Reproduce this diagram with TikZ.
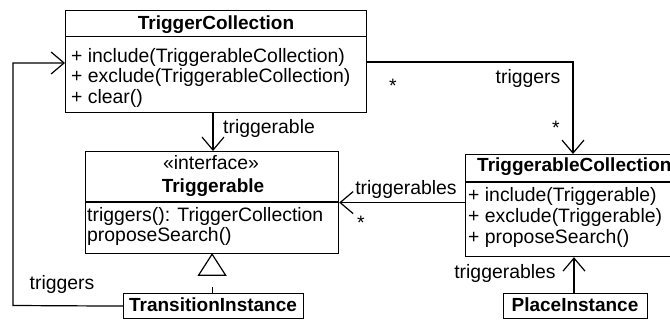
\documentclass[tikz,border=0pt]{standalone}
\usepackage{fontspec}
\setmainfont{Liberation Sans}
\usetikzlibrary{arrows.meta}

\tikzset{
  umltext/.style={font=\fontsize{19.4}{20}\selectfont, inner sep=0pt},
  umlbold/.style={umltext, font=\fontsize{19}{20}\selectfont\bfseries},
  classbox/.style={draw, line width=1.2pt, inner sep=0pt, anchor=north west},
  assoc/.style={line width=1.2pt, -{Straight Barb[length=13pt, width=22pt, line width=1.2pt]}},
  realize/.style={line width=1.2pt, dash pattern=on 6pt off 30pt},
}

\begin{document}
\begin{tikzpicture}[x=1pt, y=-1pt]
  \clip (0,0) rectangle (670,320);
  \fill[white] (0,0) rectangle (670,320);

  % ---- class boxes ----
  \node[classbox, minimum width=301pt, minimum height=102pt] (tc) at (65,10) {};
  \node[classbox, minimum width=253pt, minimum height=102pt] (trig) at (85,151) {};
  \node[classbox, minimum width=216pt, minimum height=102pt] (tcol) at (465,154) {};
  \node[classbox, minimum width=180pt, minimum height=25pt] (ti) at (123,293) {};
  \node[classbox, minimum width=144pt, minimum height=25pt] (pi) at (503,293) {};

  % compartment dividers
  \draw[line width=1.2pt] (65,36.5) -- (366,36.5);
  \draw[line width=1.2pt] (85,202) -- (338,202);
  \draw[line width=1.2pt] (465,182) -- (681,182);

  % ---- TriggerCollection ----
  \node[umlbold, anchor=base] (tct) at (216,30) {TriggerCollection};
  \node[umltext, anchor=base west] (tcm1) at (71,63) {+ include(TriggerableCollection)};
  \node[umltext, anchor=base west] (tcm2) at (71,83) {+ exclude(TriggerableCollection)};
  \node[umltext, anchor=base west] (tcm3) at (71,103.5) {+ clear()};

  % ---- Triggerable ----
  \node[umltext, anchor=base] (trs) at (211,169.5) {«interface»};
  \node[umlbold, anchor=base] (trt) at (213,192.5) {Triggerable};
  \node[umltext, anchor=base west] (trm1) at (87,222) {triggers(): TriggerCollection};
  \node[umltext, anchor=base west] (trm2) at (87,242) {proposeSearch()};

  % ---- TriggerableCollection ----
  \node[umlbold, anchor=base west] (tcolt) at (477,172) {TriggerableCollection};
  \node[umltext, anchor=base west] (tcolm1) at (468,202) {+ include(Triggerable)};
  \node[umltext, anchor=base west] (tcolm2) at (468,223) {+ exclude(Triggerable)};
  \node[umltext, anchor=base west] (tcolm3) at (468,244) {+ proposeSearch()};

  % ---- instances ----
  \node[umlbold, anchor=base] (tit) at (213,312) {TransitionInstance};
  \node[umlbold, anchor=base] (pit) at (575,312) {PlaceInstance};

  % ---- connectors ----
  \coordinate (loopx) at (13,305.5);
  \coordinate (loopy) at (13,63);
  \coordinate (trx) at (573,62);
  \coordinate (tgx) at (213,0);
  \coordinate (pix) at (574,0);

  % TriggerCollection --triggerable--> Triggerable
  \draw[assoc] (tc.south -| tgx) -- (trig.north -| tgx);
  \node[umltext, anchor=base west] (l1) at (223,134) {triggerable};

  % TransitionInstance --triggers--> TriggerCollection
  \draw[assoc] (ti.west) -- (loopx) -- (loopy) -- (tc.west |- loopy);
  \node[umltext] (l2) at (62,284) {triggers};

  % TriggerCollection --triggers--> TriggerableCollection
  \draw[assoc] (tc.east |- trx) -- (trx) -- (tcol.north -| trx);
  \node[umltext] (l3) at (528,78) {triggers};
  \node[umltext] (m1) at (393,86) {*};
  \node[umltext] (m2) at (556,128) {*};

  % TriggerableCollection --triggerables--> Triggerable
  \draw[assoc] (tcol.west |- trig.east) -- (trig.east);
  \node[umltext] (l4) at (406,189) {triggerables};
  \node[umltext] (m3) at (361,223) {*};

  % PlaceInstance --triggerables--> TriggerableCollection
  \draw[assoc] (pi.north -| pix) -- (tcol.south -| pix);
  \node[umltext] (l5) at (505,273) {triggerables};

  % TransitionInstance realizes Triggerable
  \draw[realize] (ti.north -| trig.south) -- ([yshift=-21pt]trig.south);
  \draw[line width=1.2pt, fill=white] (trig.south) -- ++(-13.5,21) -- ++(27,0) -- cycle;
\end{tikzpicture}
\end{document}
